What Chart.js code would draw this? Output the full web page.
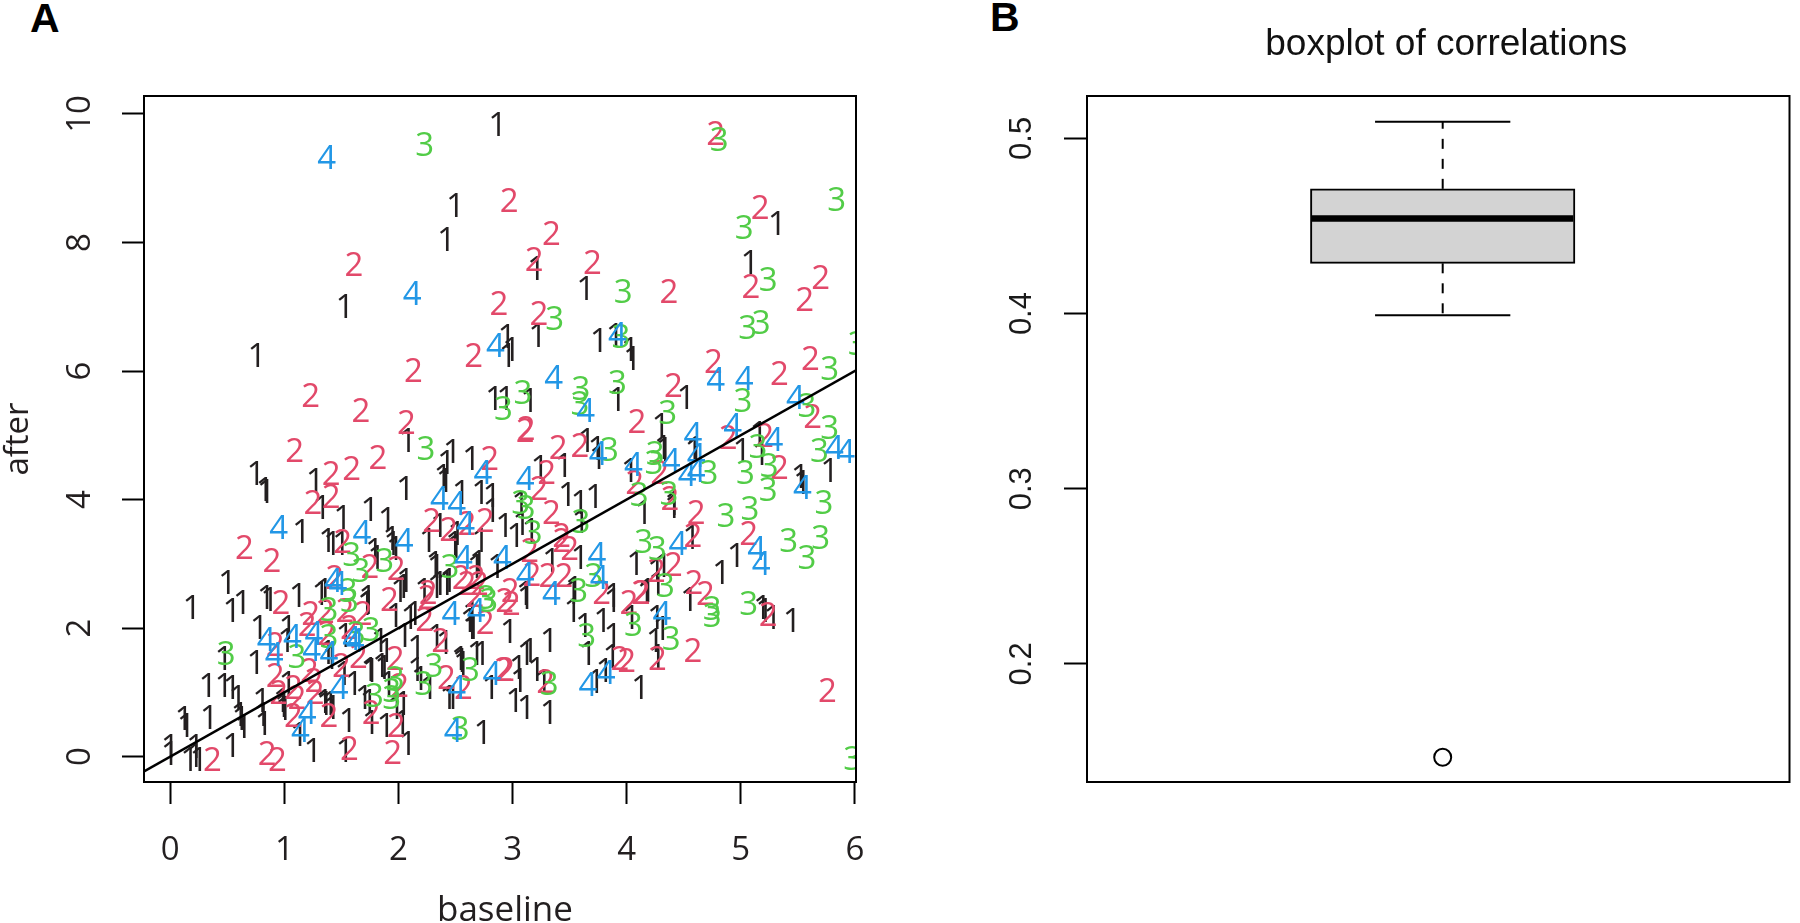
<!DOCTYPE html>
<html>
<head>
<meta charset="utf-8">
<style>
html,body{margin:0;padding:0;background:#fff;width:1800px;height:923px;overflow:hidden}
canvas{position:absolute;top:0}
.tag{position:absolute;font:bold 41px "Liberation Sans";color:#000;line-height:41px}
</style>
<script src="https://cdn.jsdelivr.net/npm/chart.js@4"></script>
</head>
<body>
<div class="tag" style="left:30px;top:-2px">A</div>
<div class="tag" style="left:990px;top:-3px">B</div>
<canvas id="a" style="left:0" width="900" height="923"></canvas>
<canvas id="b" style="left:980px" width="820" height="923"></canvas>
<script>
const group1=[[2.87,9.85],[2.50,8.58],[2.42,8.05],[5.32,8.30],[5.08,7.70],[1.53,7.01],[0.76,6.25],[3.21,7.60],[3.64,7.29],[2.95,6.55],[3.22,6.56],[2.96,6.25],[2.99,6.34],[3.76,6.48],[3.90,6.56],[4.03,6.35],[4.05,6.20],[2.84,5.58],[2.94,5.58],[3.15,5.55],[3.92,5.56],[4.52,5.59],[4.30,5.16],[4.32,4.82],[4.33,4.78],[4.60,4.80],[5.01,4.77],[5.16,5.03],[5.18,4.72],[5.78,4.46],[5.54,4.28],[5.52,4.36],[2.08,4.93],[2.47,4.75],[2.42,4.59],[2.64,4.64],[3.24,4.51],[3.45,4.54],[3.65,4.93],[3.74,4.80],[3.75,4.67],[4.03,4.46],[2.39,4.36],[4.59,4.77],[4.15,3.81],[4.41,3.94],[4.41,3.90],
[0.75,4.41],[0.83,4.16],[0.84,4.13],[1.27,4.30],[1.33,3.88],[1.15,3.51],[1.38,3.37],[1.42,3.32],[2.06,4.18],[2.41,4.31],[1.51,3.73],[1.75,3.85],[1.90,3.70],[2.72,4.12],[2.82,4.07],[2.55,4.12],[2.82,3.84],[2.93,3.61],[2.36,3.61],[2.26,3.37],[2.51,3.48],[2.49,3.32],[2.50,3.28],[2.72,3.37],[1.50,3.32],[1.81,3.11],[1.94,3.40],[1.97,3.25],[2.06,2.75],[2.01,2.59],[2.33,2.96],[2.68,2.96],[2.86,2.96],[2.22,2.59],[2.33,2.65],[2.42,2.70],[1.73,2.49],[1.35,2.59],[0.50,2.72],[0.19,2.33],[0.54,2.28],[0.63,2.41],[0.84,2.49],[0.87,2.46],[1.12,2.52],[1.32,2.54],[0.78,2.02],[1.03,2.02],[0.75,1.48],[0.47,1.53],[0.33,1.12],[0.47,1.12],[0.54,1.09],[0.59,0.93],[0.61,0.67],[0.62,0.60],[0.64,0.47],[1.03,1.14],[0.98,0.88],[0.99,0.80],[0.80,0.88],[0.81,0.67],[0.82,0.52],[1.00,0.75],[1.13,0.36],[1.25,0.10],[0.54,0.18],[0.34,0.62],[0.12,0.60],[0.14,0.49],[0.22,0.16],[0.22,0.03],[0.25,-0.03],[0.17,-0.03],[0.0,0.05],[0.0,0.16],[1.36,0.83],
[1.73,2.41],[1.97,2.20],[2.14,2.23],[2.10,2.18],[2.05,1.89],[2.16,1.71],[1.53,1.89],[1.84,1.82],[1.89,1.66],[1.75,1.37],[1.85,1.43],[1.61,1.14],[1.70,0.93],[1.74,0.86],[1.91,1.14],[1.98,0.78],[2.04,0.83],[1.76,0.54],[1.89,0.49],[2.03,0.54],[2.08,0.21],[1.56,0.57],[1.35,0.86],[1.42,0.78],[1.53,0.10],[2.16,1.37],[2.19,1.22],[2.33,1.87],[2.41,1.79],[2.55,1.50],[2.56,1.45],[2.68,1.61],[2.73,1.61],[2.81,1.09],[2.44,0.93],[2.47,0.93],[2.74,0.39],[2.65,2.02],[2.62,2.12],
[3.48,4.09],[3.59,3.97],[3.72,4.05],[3.07,3.94],[3.03,3.45],[3.08,3.63],[3.16,3.53],[3.60,3.67],[3.34,3.06],[3.59,3.11],[4.08,3.02],[4.32,2.98],[4.26,2.90],[3.11,2.54],[3.54,2.62],[3.88,2.52],[4.18,2.59],
[4.12,1.09],[3.81,1.35],[3.73,1.17],[4.27,1.56],[4.25,1.82],[4.26,2.18],[4.31,2.0],[4.04,2.18],[4.17,2.57],[3.88,2.44],[3.79,2.13],[3.88,1.89],[3.87,1.56],[3.66,1.61],[3.63,2.05],[3.53,2.28],[3.32,1.82],[2.97,1.95],[3.12,2.49],[3.53,2.57],[4.27,2.70],[4.55,2.46],[4.83,2.88],[4.96,3.14],[5.19,2.33],[5.21,2.28],[5.28,2.18],[5.45,2.12],[4.57,3.42],[3.12,1.61],[3.15,1.66],[3.05,1.40],[3.06,1.19],[3.21,1.37],[3.27,1.17],[3.02,0.88],[3.12,0.78],[3.32,0.70],
[1.79,3.22],[1.95,3.32],[2.04,2.65],[2.36,2.70],[2.44,2.75],[2.32,3.01],[2.70,3.03],[2.64,2.23],[2.64,2.02],[2.54,1.53],[2.27,1.09],[1.40,0.83],[1.76,1.35],[1.87,1.40],[1.52,1.30],[1.72,2.39],[1.38,1.63],[1.41,1.55],[1.02,1.82]];
const group2=[[4.78,9.70],[2.97,8.66],[3.34,8.15],[3.19,7.75],[3.70,7.70],[4.37,7.24],[5.17,8.55],[5.09,7.32],[5.70,7.47],[5.56,7.12],[2.88,7.06],[3.23,6.90],[2.66,6.25],[4.76,6.15],[5.34,5.97],[5.61,6.21],[1.61,7.67],[2.13,6.02],[1.23,5.63],[1.67,5.40],[2.07,5.20],[1.09,4.77],[1.82,4.66],[4.41,5.78],[4.09,5.23],[3.12,5.11],[3.11,5.08],[4.89,4.98],[5.21,5.0],[5.63,5.30],[5.34,4.51],[2.80,4.64],[3.30,4.43],[3.40,4.82],[3.59,4.85],[4.29,4.43],[1.41,4.41],[1.25,3.97],[1.41,4.05],[1.59,4.49],[0.65,3.27],[0.89,3.06],[2.29,3.68],[2.44,3.55],[2.60,3.64],[2.76,3.68],[1.51,3.35],[1.75,2.96],[1.98,2.93],[2.55,2.80],[2.68,2.80],[2.60,2.70],[2.71,2.70],[2.26,2.57],[1.44,2.80],[1.92,2.46],[0.97,2.40],[1.23,2.23],[1.20,2.07],[1.36,2.26],[0.92,1.76],[0.92,1.27],[1.22,1.35],[0.95,1.01],[1.08,1.09],[1.26,1.19],[1.27,1.01],[1.11,0.93],[1.08,0.65],[0.85,0.05],[0.94,-0.03],[0.37,-0.03],[1.39,0.65],[1.53,2.28],[1.69,2.23],[1.37,1.92],[1.57,2.02],[1.65,1.56],[1.50,1.43],[1.97,1.53],[2.01,1.12],[1.76,0.70],[1.98,0.49],[1.95,0.08],[1.57,0.13],[2.42,1.24],[2.37,1.82],[2.23,2.15],[2.25,2.49],[2.92,1.37],[2.57,1.09],[2.76,2.10],[2.67,2.52],[2.93,2.44],[4.07,4.28],[3.23,4.18],[3.34,3.81],[3.43,3.45],[3.50,3.24],[3.43,3.37],[3.15,3.22],[3.17,2.85],[3.31,2.83],[3.45,2.83],[2.98,2.59],[3.78,2.57],[4.26,2.90],[4.41,3.00],[4.12,2.57],[4.38,4.02],[4.61,3.81],[5.07,3.48],[4.58,3.45],[5.76,1.04],[3.94,1.53],[4.0,1.51],[4.27,1.53],[4.58,1.66],[4.02,2.40],[4.13,2.57],[2.99,2.39],[4.59,2.72],[4.69,2.54],[5.24,2.22],[2.94,1.37],[3.29,1.17]];
const group3=[[2.23,9.54],[4.81,9.61],[3.97,7.25],[5.03,8.24],[5.84,8.67],[5.24,7.43],[5.06,6.69],[5.18,6.77],[3.37,6.82],[3.95,6.54],[6.02,6.43],[5.78,6.04],[2.24,4.81],[3.09,5.68],[2.92,5.42],[3.60,5.73],[3.59,5.51],[3.92,5.83],[4.36,5.37],[4.25,4.72],[4.24,4.59],[4.72,4.43],[5.02,5.55],[5.15,4.83],[5.58,5.47],[5.78,5.13],[5.69,4.77],[5.25,4.54],[5.04,4.43],[5.24,4.17],[3.85,4.78],[0.49,1.61],[1.39,2.30],[1.39,1.87],[1.11,1.57],[1.59,3.16],[1.67,2.90],[1.88,3.06],[2.45,2.96],[2.77,2.49],[1.56,2.59],[1.57,2.44],[1.76,1.98],[1.63,1.92],[1.79,0.96],[1.94,1.04],[1.97,1.22],[1.94,0.93],[2.22,1.14],[2.31,1.43],[2.63,1.36],[2.54,0.44],[2.79,2.44],[3.07,3.97],[3.12,3.89],[3.18,3.49],[3.60,3.67],[4.11,4.09],[4.37,4.10],[3.71,2.83],[3.58,2.59],[4.15,3.35],[4.27,3.24],[4.34,2.67],[3.65,1.89],[4.06,2.07],[4.39,1.84],[4.75,2.31],[4.75,2.20],[5.07,2.39],[5.42,3.37],[5.58,3.10],[5.70,3.42],[5.73,3.97],[5.08,3.87],[4.87,3.76],[3.32,1.14],[5.98,-0.02]];
const group4=[[1.37,9.33],[2.12,7.21],[2.85,6.41],[3.92,6.58],[3.36,5.90],[3.64,5.39],[4.78,5.88],[5.03,5.89],[5.48,5.60],[4.58,5.02],[4.93,5.16],[5.29,4.95],[5.82,4.82],[5.92,4.75],[4.39,4.62],[4.61,4.69],[4.53,4.40],[4.61,4.46],[3.75,4.73],[4.06,4.56],[2.74,4.43],[3.11,4.33],[5.54,4.20],[0.95,3.58],[2.36,4.02],[2.51,3.94],[2.59,3.63],[1.68,3.50],[2.05,3.37],[2.57,3.11],[2.91,3.11],[1.43,2.75],[1.47,2.70],[1.26,1.92],[0.84,1.83],[1.07,1.87],[0.91,1.60],[1.24,1.67],[1.39,1.61],[1.20,0.70],[1.14,0.41],[2.46,2.23],[1.59,1.84],[1.62,1.82],[1.48,1.09],[2.82,1.30],[2.51,1.09],[2.48,0.41],[2.68,2.28],[3.74,3.15],[3.11,2.85],[3.76,2.80],[3.34,2.54],[4.45,3.32],[3.66,1.13],[3.82,1.32],[4.31,2.23],[5.14,3.24],[5.18,3.01]];
const groupNames=['1','2','3','4'];
const groupColors=['#231f20','#e2496a','#52cc47','#2297e6'];
const identityX=[-0.23,6.01];
const identityY=[-0.23,6.01];
const xTicksA=[0,1,2,3,4,5,6];
const yTicksA=[0,2,4,6,8,10];
const yTicksB=[0.2,0.3,0.4,0.5];
const whiskerLow=0.399, boxLow=0.4287, boxMedian=0.4543, boxHigh=0.4712, whiskerHigh=0.5095;
const outliers=[0.1467];
const sans='"Open Sans"';

Chart.defaults.animation=false;
Chart.defaults.plugins.legend.display=false;
Chart.defaults.plugins.tooltip.enabled=false;

const frame={id:'frame',afterDraw(c){
  const a=c.chartArea,x=c.ctx;
  x.save();x.strokeStyle='#000';x.lineWidth=2;x.strokeRect(a.left,a.top,a.right-a.left,a.bottom-a.top);x.restore();
}};
const digits={id:'digits',beforeDatasetsDraw(c){
  const a=c.chartArea,x=c.ctx;
  x.save();x.beginPath();x.rect(a.left,a.top,a.right-a.left,a.bottom-a.top);x.clip();
  x.font='33px '+sans;x.textAlign='center';x.textBaseline='alphabetic';
  groupNames.forEach((n,i)=>{
    x.fillStyle=groupColors[i];
    c.getDatasetMeta(i).data.forEach(p=>x.fillText(n,p.x,p.y+12));
  });
  x.restore();
}};
const rotatedY={id:'rotatedY',afterDraw(c,_,o){
  const s=c.scales.y,x=c.ctx;
  x.save();x.fillStyle=o.color;x.font=o.font;x.textAlign='center';x.textBaseline='middle';
  s.ticks.forEach(t=>{
    x.save();x.translate(o.x,s.getPixelForValue(t.value));x.rotate(-Math.PI/2);
    x.fillText(t.label,0,0);x.restore();
  });
  x.restore();
}};
const heading={id:'heading',afterDraw(c,_,o){
  const a=c.chartArea,x=c.ctx;
  x.save();x.fillStyle=o.color;x.font=o.font;x.textAlign='center';x.textBaseline='alphabetic';
  x.fillText(o.text,(a.left+a.right)/2+o.dx,o.y);x.restore();
}};
const tickGrid={drawOnChartArea:false,drawTicks:true,tickLength:22,tickColor:'#000',tickWidth:2};

new Chart(document.getElementById('a'),{
  type:'scatter',
  plugins:[digits,frame,rotatedY,heading],
  data:{datasets:[
    ...[group1,group2,group3,group4].map((g,i)=>({label:groupNames[i],data:g.map(([x,y])=>({x,y})),pointRadius:0,showLine:false})),
    {type:'line',data:identityX.map((x,i)=>({x,y:identityY[i]})),borderColor:'#000',borderWidth:2.5,pointRadius:0,fill:false}
  ]},
  options:{
    responsive:false,
    layout:{padding:{top:96,right:44,left:0,bottom:0}},
    plugins:{
      rotatedY:{x:80.5,color:'#231f20',font:'33px '+sans},
      heading:{text:'baseline',color:'#231f20',font:'35px '+sans,dx:5,y:921}
    },
    scales:{
      x:{type:'linear',min:-0.2305,max:6.01,
        afterBuildTicks(s){s.ticks=xTicksA.map(value=>({value}));},
        afterFit(s){s.height=141;},
        grid:tickGrid,border:{display:false},
        ticks:{autoSkip:false,maxRotation:0,color:'#231f20',font:{family:'Open Sans',size:33},padding:27,callback:v=>String(v)}
      },
      y:{type:'linear',min:-0.394,max:10.28,
        afterBuildTicks(s){s.ticks=yTicksA.map(value=>({value}));},
        afterFit(s){s.width=144;},
        grid:tickGrid,border:{display:false},
        ticks:{display:false,callback:v=>String(v)},
        title:{display:true,text:'after',color:'#231f20',font:{family:'Open Sans',size:33,lineHeight:0.7},padding:{top:7,bottom:0}}
      }
    }
  }
});

const center=1, boxHalf=0.4, capHalf=0.207;
const seg=(xs,ys,extra)=>({type:'line',data:xs.map((x,i)=>({x,y:ys[i]})),borderColor:'#000',borderWidth:2,pointRadius:0,fill:false,...extra});
new Chart(document.getElementById('b'),{
  type:'bar',
  plugins:[frame,rotatedY,heading],
  data:{datasets:[
    {type:'bar',data:[{x:center,y:[boxLow,boxHigh]}],backgroundColor:'#d3d3d3',borderColor:'#000',borderWidth:2,borderSkipped:false,barThickness:264.5,order:5},
    seg([center-boxHalf,center+boxHalf],[boxMedian,boxMedian],{borderWidth:6.5,order:1}),
    seg([center,center],[boxHigh,whiskerHigh],{borderDash:[10,10],order:2}),
    seg([center,center],[boxLow,whiskerLow],{borderDash:[10,10],order:2}),
    seg([center-capHalf,center+capHalf],[whiskerHigh,whiskerHigh],{order:2}),
    seg([center-capHalf,center+capHalf],[whiskerLow,whiskerLow],{order:2}),
    {type:'scatter',data:outliers.map(y=>({x:center,y})),pointRadius:8.5,borderWidth:2,pointBorderColor:'#000',pointBackgroundColor:'rgba(0,0,0,0)',order:1}
  ]},
  options:{
    responsive:false,
    layout:{padding:{top:96,right:2,left:0,bottom:141}},
    plugins:{
      rotatedY:{x:42,color:'#1a1a1a',font:'31px "Liberation Sans"'},
      heading:{text:'boxplot of correlations',color:'#111',font:'37px "Liberation Sans"',dx:8,y:55}
    },
    scales:{
      x:{type:'linear',display:false,offset:false,min:-0.0886,max:2.0614,grid:{offset:false}},
      y:{type:'linear',min:0.1326,max:0.5242,
        afterBuildTicks(s){s.ticks=yTicksB.map(value=>({value}));},
        afterFit(s){s.width=107;},
        grid:{...tickGrid,tickLength:23},border:{display:false},
        ticks:{display:false,callback:v=>v.toFixed(1)}
      }
    }
  }
});
</script>
</body>
</html>
